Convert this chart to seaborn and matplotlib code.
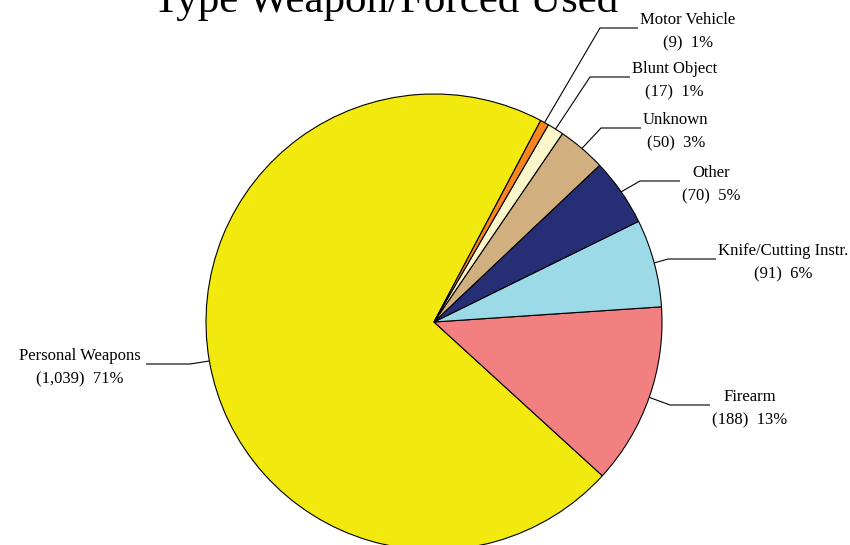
import numpy as np
import matplotlib
matplotlib.use('Agg')
import matplotlib.pyplot as plt
import seaborn as sns

# ---------------------------
# Datos
# ---------------------------
categories = ['Personal Weapons', 'Firearm', 'Knife/Cutting Instr.', 'Other',
              'Unknown', 'Blunt Object', 'Motor Vehicle']
counts = [1039, 188, 91, 70, 50, 17, 9]
percent_labels = ['71%', '13%', '6%', '5%', '3%', '1%', '1%']
colors = ['#F2EA0E', '#F38080', '#9CDAE7', '#262F76', '#D1AF7E', '#FCF7CB', '#F7861E']

title = 'Type Weapon/Forced Used'

# ---------------------------
# Layout (pixels of the 850x545 canvas)
# ---------------------------
W, H = 850, 545
cx, cy, R = 434, 322, 228   # pie centre / radius in px

def px(x, y):
    return (x - cx) / R, (cy - y) / R

# elbow point, end of horizontal leader, side of label
label_layout = {
    'Personal Weapons': ((190, 364), (146, 364), 'right'),
    'Firearm': ((670, 405), (710, 405), 'left'),
    'Knife/Cutting Instr.': ((668, 259), (716, 259), 'left'),
    'Other': ((640, 181), (680, 181), 'left'),
    'Unknown': ((601, 128), (641, 128), 'left'),
    'Blunt Object': ((590, 77), (630, 77), 'left'),
    'Motor Vehicle': ((600, 28), (638, 28), 'left'),
}

sns.set_theme(style='white')
plt.rcParams['font.family'] = ['Liberation Serif', 'DejaVu Serif']

fig = plt.figure(figsize=(W / 100, H / 100), dpi=100)
ax = fig.add_axes([0, 0, 1, 1])

# Pie: empieza en 62.1 grados, sentido antihorario
wedges, _ = ax.pie(counts, colors=sns.color_palette(colors), startangle=62.1,
                   counterclock=True, radius=1.0, center=(0, 0),
                   wedgeprops=dict(edgecolor='black', linewidth=0.8))

for w, cat, n, pct in zip(wedges, categories, counts, percent_labels):
    mid = np.deg2rad((w.theta1 + w.theta2) / 2)
    x0, y0 = np.cos(mid), np.sin(mid)
    (ex, ey), (hx, hy), side = label_layout[cat]
    x1, y1 = px(ex, ey)
    x2, y2 = px(hx, hy)
    ax.plot([x0, x1, x2], [y0, y1, y2], color='black', lw=0.8, solid_capstyle='butt')
    pad = 2 / R if side == 'left' else -5 / R
    ax.text(x2 + pad, y2 - 4 / R, f'{cat}\n({n:,})  {pct}', ha=side, va='center',
            multialignment='center', fontsize=12, linespacing=1.6, color='black')

tx, ty = px(386, 12)
ax.text(tx, ty, title, ha='center', va='baseline', fontsize=31, color='black')

ax.set_xlim(-cx / R, (W - cx) / R)
ax.set_ylim(-(H - cy) / R, cy / R)
ax.set_aspect('equal')
ax.axis('off')

fig.savefig('out.png', dpi=100)
